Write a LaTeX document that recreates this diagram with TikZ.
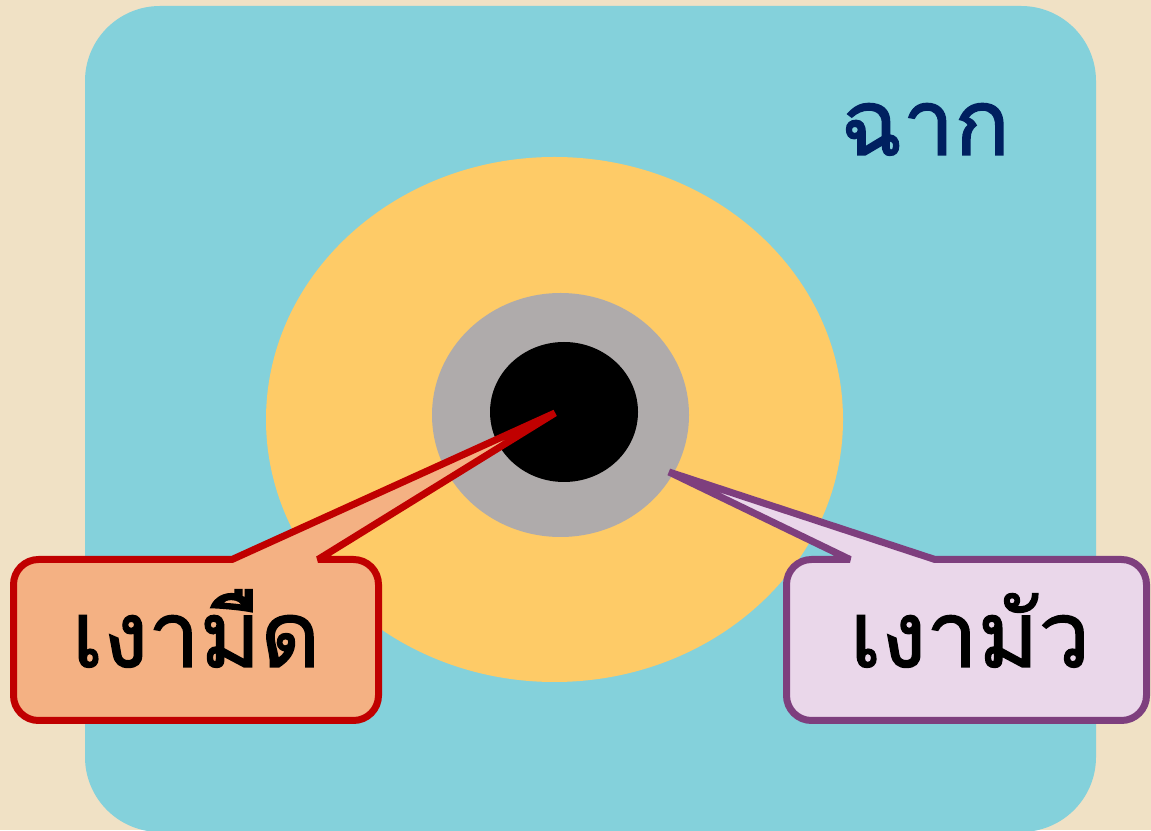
\documentclass[tikz,border=0pt]{standalone}
\usepackage{fontspec}
\newfontfamily\thaifont[Script=Thai,FakeBold=1.6]{Loma}
\definecolor{bgbeige}{HTML}{F0E1C5}
\definecolor{screenblue}{HTML}{84D1DB}
\definecolor{penumbra}{HTML}{FECB67}
\definecolor{shadowgray}{HTML}{AFABAB}
\definecolor{darkred}{HTML}{C00000}
\definecolor{salmon}{HTML}{F4B183}
\definecolor{plum}{HTML}{7E3F7E}
\definecolor{lilac}{HTML}{EAD7EA}
\definecolor{navy}{HTML}{002060}
\tikzset{
  callred/.style={draw=darkred,fill=salmon,line width=7pt,line join=bevel},
  callplum/.style={draw=plum,fill=lilac,line width=7pt,line join=bevel},
  thaibig/.style={font=\thaifont\fontsize{92}{100}\selectfont,anchor=base,inner sep=0pt},
  biglabel/.style={thaibig,text=black},
}
\begin{document}
\begin{tikzpicture}[x=1pt,y=1pt]
\useasboundingbox (0,0) rectangle (1151,830);
\fill[bgbeige] (0,0) rectangle (1151,830);
\fill[screenblue,rounded corners=75pt] (85,-2) rectangle (1096,824);
\node[thaibig,text=navy] (screen) at (925,675) {ฉาก};
\fill[penumbra] (554.5,410.5) ellipse [x radius=288.5, y radius=262.5];
\fill[shadowgray] (560.5,415) ellipse [x radius=128.5, y radius=122];
\fill[black] (564,418) ellipse [x radius=74, y radius=70];
% red callout
\coordinate (rtip) at (555,417);
\coordinate (rbl) at (232,270.5);
\coordinate (rbr) at (318,270.5);
\draw[callred] (38.5,270.5) -- (rbl) -- (rtip) -- (rbr) -- (353.5,270.5)
  arc[start angle=90,end angle=0,radius=25] -- (378.5,134.5)
  arc[start angle=0,end angle=-90,radius=25] -- (38.5,109.5)
  arc[start angle=270,end angle=180,radius=25] -- (13.5,245.5)
  arc[start angle=180,end angle=90,radius=25] -- cycle;
\node[biglabel] (umbra) at (196,163) {เงามืด};
% purple callout
\coordinate (ptip) at (669,358);
\coordinate (pbl) at (850,270.5);
\coordinate (pbr) at (935,270.5);
\draw[callplum] (811.5,270.5) -- (pbl) -- (ptip) -- (pbr) -- (1121.5,270.5)
  arc[start angle=90,end angle=0,radius=25] -- (1146.5,134.5)
  arc[start angle=0,end angle=-90,radius=25] -- (811.5,109.5)
  arc[start angle=270,end angle=180,radius=25] -- (786.5,245.5)
  arc[start angle=180,end angle=90,radius=25] -- cycle;
\node[biglabel] (penumbralabel) at (970,163) {เงามัว};
\end{tikzpicture}
\end{document}
